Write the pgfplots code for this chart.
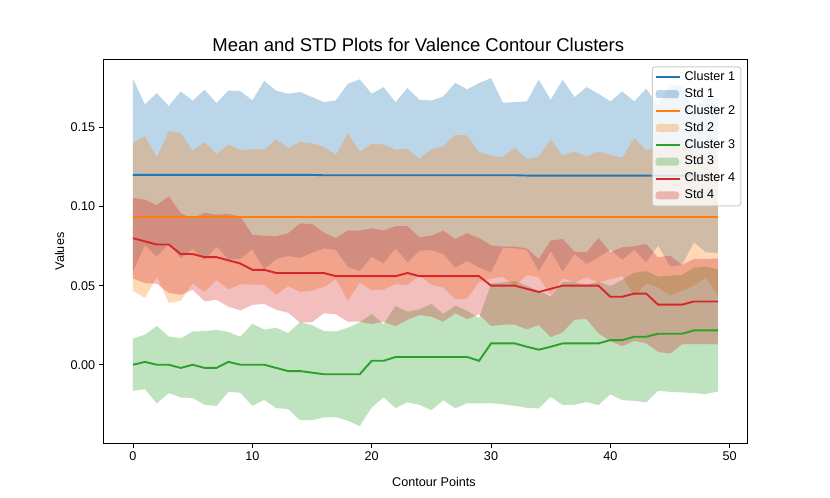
\documentclass[border=0pt]{standalone}
\usepackage{fontspec}
\setmainfont{Liberation Sans}
\usepackage{pgfplots}
\pgfplotsset{compat=1.18}
\usepackage{pgfplotstable}
\usepgfplotslibrary{fillbetween}
\definecolor{cA}{HTML}{1F77B4}
\definecolor{cB}{HTML}{FF7F0E}
\definecolor{cC}{HTML}{2CA02C}
\definecolor{cD}{HTML}{D62728}
\definecolor{legedge}{HTML}{CCCCCC}

\pgfplotstableread{
i m1 s1 m2 s2 m3 s3 m4 s4
0 0.1200 0.0608 0.0934 0.0467 0.0000 0.0165 0.080 0.0255
1 0.1200 0.0446 0.0934 0.0511 0.0018 0.0172 0.078 0.0264
2 0.1200 0.0517 0.0934 0.0378 0.0000 0.0245 0.076 0.0248
3 0.1200 0.0435 0.0934 0.0543 0.0000 0.0179 0.076 0.0305
4 0.1200 0.0528 0.0934 0.0530 -0.0020 0.0187 0.070 0.0258
5 0.1200 0.0469 0.0934 0.0420 0.0000 0.0210 0.070 0.0226
6 0.1200 0.0538 0.0934 0.0473 -0.0020 0.0233 0.068 0.0280
7 0.1200 0.0454 0.0934 0.0399 -0.0020 0.0240 0.068 0.0269
8 0.1200 0.0534 0.0934 0.0458 0.0018 0.0189 0.066 0.0293
9 0.1200 0.0530 0.0934 0.0425 0.0000 0.0177 0.064 0.0297
10 0.1200 0.0471 0.0934 0.0427 0.0000 0.0260 0.060 0.0221
11 0.1200 0.0595 0.0934 0.0427 0.0000 0.0222 0.060 0.0216
12 0.1200 0.0532 0.0934 0.0490 -0.0020 0.0254 0.058 0.0232
13 0.1200 0.0513 0.0934 0.0437 -0.0040 0.0240 0.058 0.0251
14 0.1200 0.0524 0.0934 0.0473 -0.0040 0.0310 0.058 0.0314
15 0.1200 0.0492 0.0934 0.0465 -0.0050 0.0300 0.058 0.0310
16 0.1198 0.0462 0.0934 0.0442 -0.0060 0.0273 0.058 0.0255
17 0.1198 0.0473 0.0934 0.0393 -0.0060 0.0270 0.056 0.0241
18 0.1198 0.0578 0.0934 0.0530 -0.0060 0.0294 0.056 0.0288
19 0.1198 0.0606 0.0934 0.0414 -0.0060 0.0328 0.056 0.0288
20 0.1198 0.0515 0.0934 0.0463 0.0025 0.0295 0.056 0.0303
21 0.1198 0.0557 0.0934 0.0458 0.0025 0.0232 0.056 0.0288
22 0.1198 0.0462 0.0934 0.0425 0.0049 0.0323 0.056 0.0316
23 0.1198 0.0551 0.0934 0.0431 0.0049 0.0287 0.058 0.0296
24 0.1198 0.0477 0.0934 0.0368 0.0049 0.0302 0.056 0.0246
25 0.1198 0.0473 0.0934 0.0427 0.0049 0.0336 0.056 0.0256
26 0.1198 0.0498 0.0934 0.0446 0.0049 0.0273 0.056 0.0288
27 0.1198 0.0584 0.0934 0.0519 0.0049 0.0325 0.056 0.0235
28 0.1198 0.0543 0.0934 0.0515 0.0049 0.0292 0.056 0.0271
29 0.1198 0.0583 0.0934 0.0410 0.0025 0.0270 0.056 0.0241
30 0.1198 0.0614 0.0934 0.0389 0.0135 0.0378 0.050 0.0255
31 0.1198 0.0458 0.0934 0.0378 0.0135 0.0385 0.050 0.0247
32 0.1198 0.0462 0.0934 0.0437 0.0135 0.0395 0.050 0.0247
33 0.1196 0.0469 0.0934 0.0366 0.0114 0.0386 0.048 0.0256
34 0.1196 0.0606 0.0934 0.0382 0.0095 0.0371 0.046 0.0209
35 0.1196 0.0479 0.0934 0.0490 0.0114 0.0317 0.048 0.0305
36 0.1196 0.0606 0.0934 0.0389 0.0135 0.0390 0.050 0.0295
37 0.1196 0.0496 0.0934 0.0414 0.0135 0.0388 0.050 0.0215
38 0.1196 0.0559 0.0934 0.0382 0.0135 0.0371 0.050 0.0211
39 0.1196 0.0517 0.0934 0.0414 0.0135 0.0390 0.050 0.0301
40 0.1196 0.0469 0.0934 0.0393 0.0156 0.0342 0.043 0.0281
41 0.1196 0.0532 0.0934 0.0374 0.0156 0.0380 0.043 0.0313
42 0.1196 0.0469 0.0934 0.0501 0.0177 0.0405 0.045 0.0299
43 0.1196 0.0549 0.0934 0.0420 0.0177 0.0415 0.045 0.0314
44 0.1196 0.0443 0.0934 0.0445 0.0196 0.0361 0.038 0.0299
45 0.1196 0.0574 0.0934 0.0497 0.0196 0.0367 0.038 0.0310
46 0.1196 0.0566 0.0934 0.0466 0.0196 0.0371 0.038 0.0251
47 0.1196 0.0422 0.0934 0.0434 0.0217 0.0396 0.040 0.0269
48 0.1196 0.0485 0.0934 0.0381 0.0217 0.0403 0.040 0.0269
49 0.1196 0.0489 0.0934 0.0497 0.0217 0.0386 0.040 0.0272
}\data

\pgfplotsset{
  meanline/.style={line width=1.65pt, legend image code/.code={\draw[##1] (0pt,0pt) -- (21.5pt,0pt);}},
  stdarea/.style={fill=#1, fill opacity=0.3, draw=none, legend image code/.code={\fill[##1,draw=none] (0pt,-3.5pt) rectangle (20.5pt,3.5pt);}},
}

\begin{document}
\begin{tikzpicture}
\path (0,0) rectangle (10in,6in);
\begin{axis}[
  at={(1.25in,0.66in)}, anchor=south west,
  width=7.75in, height=4.62in, scale only axis,
  set layers,
  xmin=-2.45, xmax=51.45, ymin=-0.0496, ymax=0.1928,
  axis line style={line width=0.85pt},
  tick style={black, line width=0.85pt},
  tick align=outside, xtick pos=bottom, ytick pos=left,
  major tick length=3.85pt,
  xtick={0,10,20,30,40,50}, xticklabels={0,10,20,30,40,50},
  ytick={0,0.05,0.1,0.15}, yticklabels={0.00,0.05,0.10,0.15},
  scaled y ticks=false,
  tick label style={font=\fontsize{11}{13}\selectfont},
  xlabel={Contour Points}, ylabel={Values},
  xlabel style={font=\fontsize{11}{13}\selectfont, at={(axis description cs:0.5133,-0.113)}, anchor=base},
  ylabel style={font=\fontsize{11}{13}\selectfont, at={(axis description cs:-0.0615,0.5)}, anchor=base},
  title={Mean and STD Plots for Valence Contour Clusters},
  title style={font=\fontsize{16.1}{19}\selectfont, at={(axis description cs:0.489,1.003)}, anchor=base},
  legend cell align=left,
  legend style={at={(1,1)}, anchor=north east, xshift=-4.9pt, yshift=-5.8pt,
    draw=legedge, line width=0.85pt, fill=white, fill opacity=0.8, draw opacity=1, text opacity=1,
    rounded corners=2.5pt, font=\fontsize{11}{13}\selectfont,
    inner xsep=2pt, inner ysep=3pt, row sep=2.6pt,
    nodes={inner ysep=1pt, inner xsep=3pt, text height=7.9pt, text depth=2.2pt}},
]
\addplot[cA, meanline] table[x=i, y=m1] {\data};
\addlegendentry{Cluster 1}
\addplot[name path=u1, draw=none, forget plot] table[x=i, y expr=\thisrow{m1}+\thisrow{s1}] {\data};
\addplot[name path=l1, draw=none, forget plot] table[x=i, y expr=\thisrow{m1}-\thisrow{s1}] {\data};
\addplot[stdarea=cA] fill between[of=u1 and l1];
\addlegendentry{Std 1}

\addplot[cB, meanline] table[x=i, y=m2] {\data};
\addlegendentry{Cluster 2}
\addplot[name path=u2, draw=none, forget plot] table[x=i, y expr=\thisrow{m2}+\thisrow{s2}] {\data};
\addplot[name path=l2, draw=none, forget plot] table[x=i, y expr=\thisrow{m2}-\thisrow{s2}] {\data};
\addplot[stdarea=cB] fill between[of=u2 and l2];
\addlegendentry{Std 2}

\addplot[cC, meanline] table[x=i, y=m3] {\data};
\addlegendentry{Cluster 3}
\addplot[name path=u3, draw=none, forget plot] table[x=i, y expr=\thisrow{m3}+\thisrow{s3}] {\data};
\addplot[name path=l3, draw=none, forget plot] table[x=i, y expr=\thisrow{m3}-\thisrow{s3}] {\data};
\addplot[stdarea=cC] fill between[of=u3 and l3];
\addlegendentry{Std 3}

\addplot[cD, meanline] table[x=i, y=m4] {\data};
\addlegendentry{Cluster 4}
\addplot[name path=u4, draw=none, forget plot] table[x=i, y expr=\thisrow{m4}+\thisrow{s4}] {\data};
\addplot[name path=l4, draw=none, forget plot] table[x=i, y expr=\thisrow{m4}-\thisrow{s4}] {\data};
\addplot[stdarea=cD] fill between[of=u4 and l4];
\addlegendentry{Std 4}
\end{axis}
\end{tikzpicture}
\end{document}
